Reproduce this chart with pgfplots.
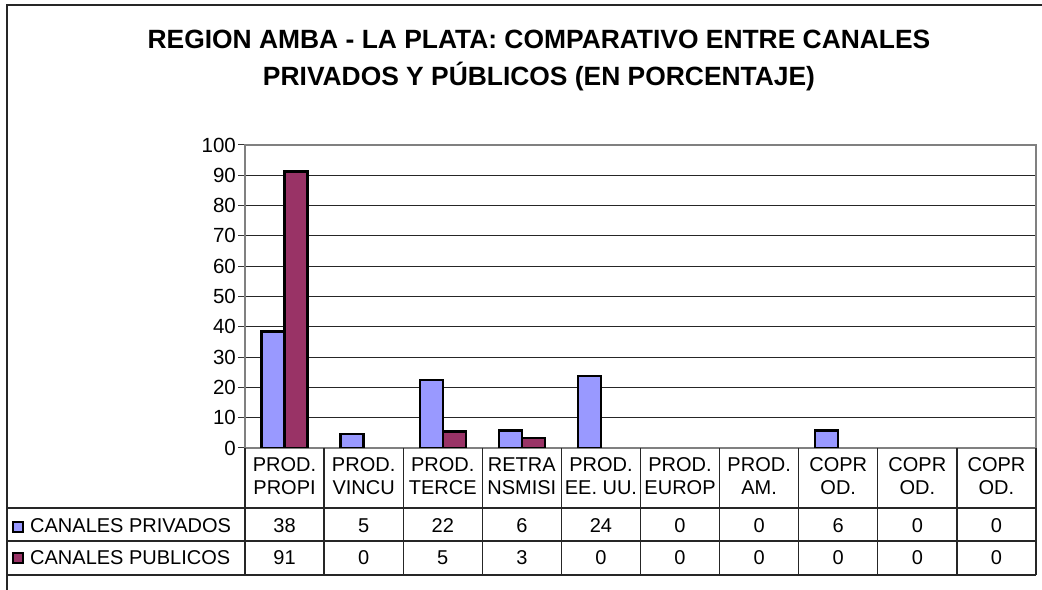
\documentclass[border=0pt]{standalone}
\usepackage{pgfplots}
\pgfplotsset{compat=1.18}
\usepackage{fontspec}
\setmainfont{Liberation Sans}
\definecolor{priv}{HTML}{9999FF}
\definecolor{pub}{HTML}{993366}
\begin{document}
\begin{tikzpicture}[x=1bp,y=1bp]
\path[use as bounding box] (0,0) rectangle (1042,590);
\draw[line width=2bp, black!85] (7,0) -- (7,585) -- (1042,585);
\node[font=\fontsize{26.4bp}{30bp}\selectfont\bfseries, anchor=base, inner sep=0] at (539,541) {REGION AMBA - LA PLATA: COMPARATIVO ENTRE CANALES};
\node[font=\fontsize{26.4bp}{30bp}\selectfont\bfseries, anchor=base, inner sep=0] at (539,504) {PRIVADOS Y PÚBLICOS (EN PORCENTAJE)};
\begin{axis}[
  at={(245bp,142bp)}, anchor=south west, scale only axis,
  width=791bp, height=303bp,
  xmin=-0.5, xmax=9.5, ymin=0, ymax=100,
  ytick={0,10,...,100}, xtick=\empty,
  ymajorgrids, grid style={black!85, line width=1bp},
  axis line style={draw=black!50, line width=1.5bp},
  tick style={black!80, line width=1bp}, major tick length=7bp,
  tick align=outside, ytick pos=left,
  yticklabel style={font=\fontsize{20.5bp}{23bp}\selectfont, inner sep=2bp},
  /pgf/number format/assume math mode=true,
  ybar=0pt, bar width=23bp,
]
\addplot[fill=priv, draw=black, line width=2.4bp] coordinates {(0,38.4) (1,4.6) (2,22.4) (3,5.8) (4,23.8) (7,5.8)};
\addplot[fill=pub, draw=black, line width=2.4bp] coordinates {(0,91.3) (2,5.4) (3,3.3)};
\end{axis}
% data table
\foreach \k in {0,...,10} \draw[line width=1.3bp, black!85] (245+79.1*\k,142) -- (245+79.1*\k,15);
\foreach \yy in {82,49,15} \draw[line width=1.3bp, black!85] (8,\yy) -- (1036,\yy);
\begin{scope}[every node/.style={font=\fontsize{20bp}{23bp}\selectfont, anchor=base, inner sep=0}]
\foreach \a/\b [count=\i from 0] in {PROD./PROPI, PROD./VINCU, PROD./TERCE, RETRA/NSMISI, PROD./EE. UU., PROD./EUROP, PROD./AM., COPR/OD., COPR/OD., COPR/OD.} {
  \node at (284.55+79.1*\i,118) {\a};
  \node at (284.55+79.1*\i,95) {\b};
}
\foreach \v [count=\i from 0] in {38,5,22,6,24,0,0,6,0,0} \node at (284.55+79.1*\i,57) {\v};
\foreach \v [count=\i from 0] in {91,0,5,3,0,0,0,0,0,0} \node at (284.55+79.1*\i,25) {\v};
\draw[fill=priv, line width=1.8bp] (13,58) rectangle (23,68);
\draw[fill=pub, line width=1.8bp] (13,27) rectangle (23,37);
\node[anchor=base west] at (30,57) {CANALES PRIVADOS};
\node[anchor=base west] at (30,25) {CANALES PUBLICOS};
\end{scope}
\end{tikzpicture}
\end{document}
